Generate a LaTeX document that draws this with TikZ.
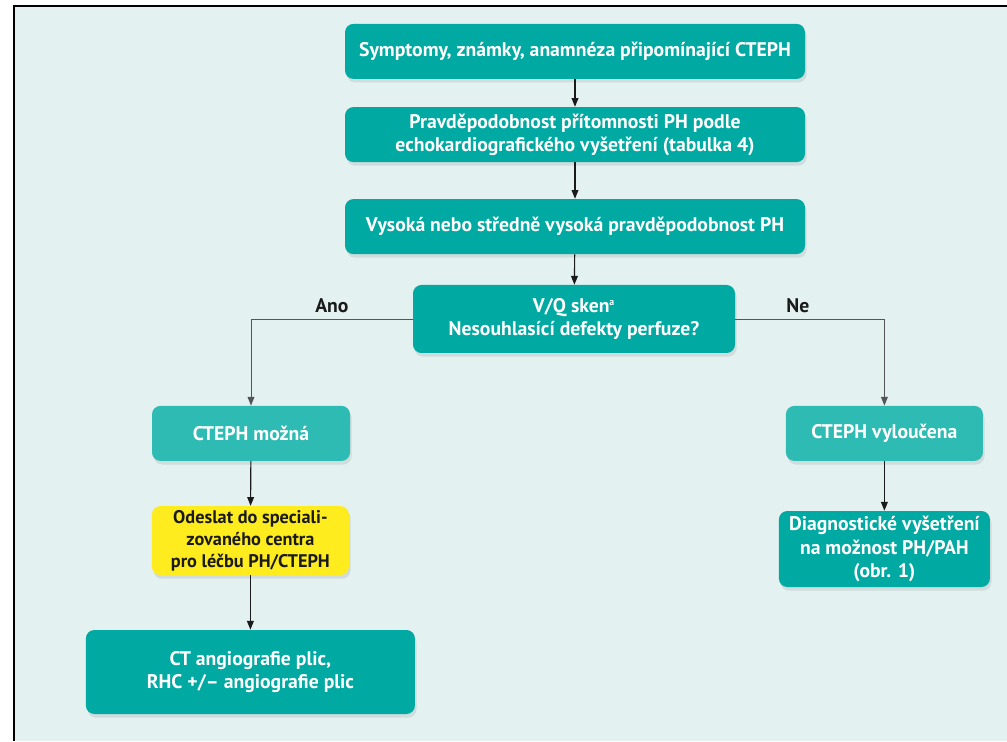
\documentclass[tikz,border=0pt]{standalone}
\usepackage{fontspec}
\setmainfont{PT Sans}
\usetikzlibrary{arrows.meta,shadows}
\definecolor{flowbg}{HTML}{E3F1F1}
\definecolor{flowteal}{HTML}{00A9A1}
\definecolor{flowtealsoft}{HTML}{2DBBB4}
\definecolor{flowyellow}{HTML}{FFEC1E}
\definecolor{flowink}{HTML}{1A1A1A}
\definecolor{flowrule}{HTML}{555555}
\tikzset{
  flowbox/.style={rounded corners=6pt, align=center, inner sep=0pt,
    font=\fontsize{14}{16.5}\selectfont\bfseries,
    drop shadow={opacity=.18, shadow xshift=.4mm, shadow yshift=-.9mm}},
  tealbox/.style={flowbox, fill=flowteal, text=white},
  softbox/.style={flowbox, fill=flowtealsoft, text=white},
  yellowbox/.style={flowbox, fill=flowyellow, text=flowink,
    font=\fontsize{13}{15.5}\selectfont\bfseries},
  flowarrow/.style={-{Triangle[length=2.2mm,width=1.7mm]}, draw=flowink, line width=.8pt},
  branchline/.style={-{Triangle[length=2.2mm,width=1.7mm]}, draw=flowrule, line width=.7pt},
  branchtext/.style={font=\fontsize{14}{16}\selectfont\bfseries, text=flowink}
}
\begin{document}
\begin{tikzpicture}[x=1cm,y=1cm]
  \useasboundingbox (0,0) rectangle (25.175,18.525);
  % page frame
  \fill[white] (0,0) rectangle (25.175,18.525);
  \fill[flowbg] (.35,0) rectangle (25.175,18.375);
  \draw[black, line width=2pt] (.35,0) -- (.35,18.375) -- (25.175,18.375);

  % main column
  \node[tealbox, minimum width=11.5cm, minimum height=1.375cm] (symptoms) at (14.375,17.24)
    {Symptomy, známky, anamnéza připomínající CTEPH};
  \node[tealbox, minimum width=11.5cm, minimum height=1.375cm] (echo) at (14.375,15.16)
    {Pravděpodobnost přítomnosti PH podle\\echokardiografického vyšetření (tabulka 4)};
  \node[tealbox, minimum width=11.5cm, minimum height=1.375cm] (highprob) at (14.375,12.86)
    {Vysoká nebo středně vysoká pravděpodobnost PH};
  \node[tealbox, minimum width=8.05cm, minimum height=1.7cm] (vqscan) at (14.35,10.55)
    {V/Q sken\textsuperscript{\fontsize{7}{7}\selectfont a}\\Nesouhlasící defekty perfuze?};

  % left branch
  \node[softbox, minimum width=4.95cm, minimum height=1.375cm] (possible) at (6.275,7.69)
    {CTEPH možná};
  \node[yellowbox, minimum width=4.925cm, minimum height=1.725cm] (refer) at (6.26,5.01)
    {Odeslat do speciali-\\zovaného centra\\pro léčbu PH/CTEPH};
  \node[tealbox, minimum width=8.225cm, minimum height=2.1cm] (ctangio) at (6.26,1.725)
    {CT angiografie plic,\\RHC +/– angiografie plic};

  % right branch
  \node[softbox, minimum width=4.925cm, minimum height=1.375cm] (excluded) at (22.11,7.69)
    {CTEPH vyloučena};
  \node[tealbox, minimum width=5.275cm, minimum height=1.9cm] (diagnostic) at (22.11,4.8)
    {Diagnostické vyšetření\\na možnost PH/PAH\\(obr. 1)};

  \draw[flowarrow] (symptoms) -- (echo);
  \draw[flowarrow] (echo) -- (highprob);
  \draw[flowarrow] (highprob) -- (vqscan);
  \draw[branchline] (vqscan.west) -| node[branchtext, pos=.25, above=1pt] {Ano} (possible.north);
  \draw[branchline] (vqscan.east) -| node[branchtext, pos=.21, above=1pt] {Ne} (excluded.north);
  \draw[flowarrow] (possible) -- (refer);
  \draw[flowarrow] (refer) -- (ctangio);
  \draw[flowarrow] (excluded) -- (diagnostic);
\end{tikzpicture}
\end{document}
